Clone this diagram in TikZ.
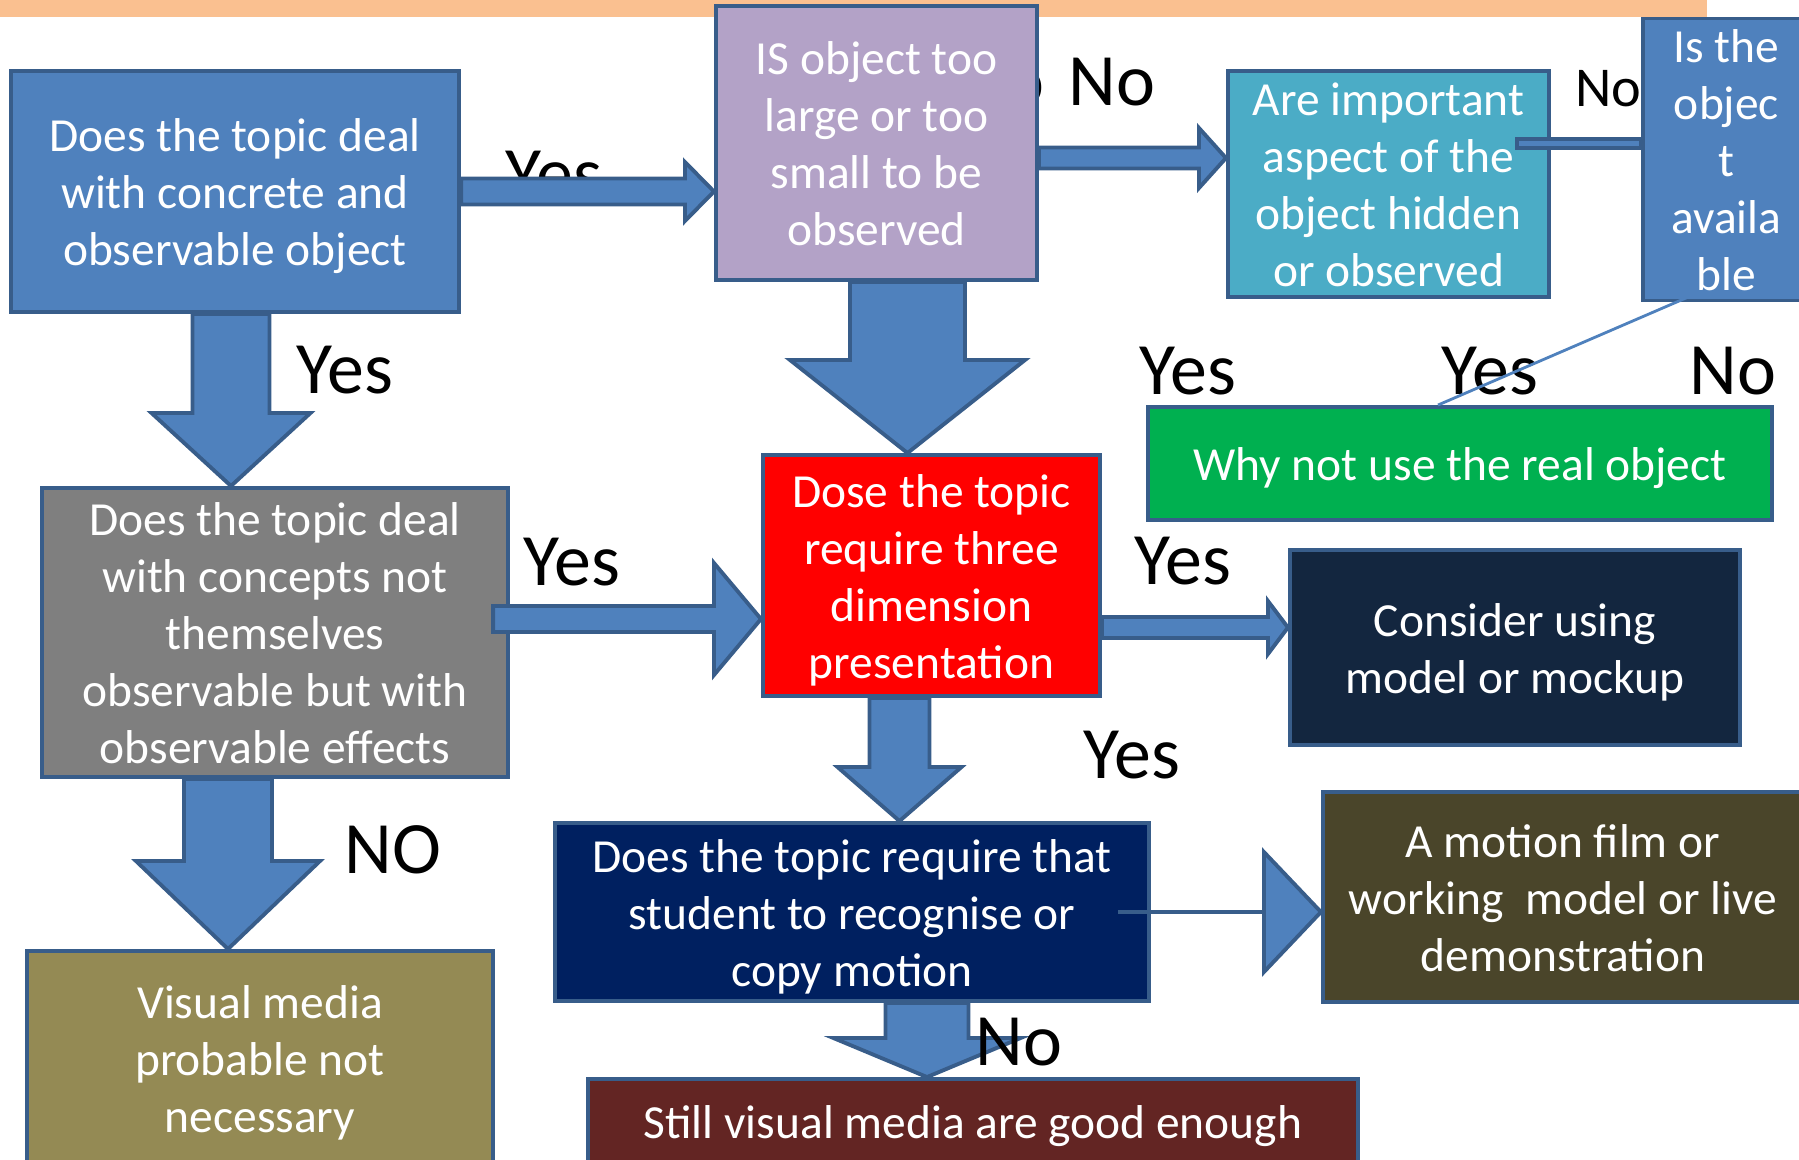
\documentclass[tikz,border=0pt]{standalone}
\usepackage{fontspec}
\setmainfont{Carlito}
\usepackage{tikz}
\usetikzlibrary{calc}

\definecolor{arrowblue}{HTML}{4F81BD}
\definecolor{edgeblue}{HTML}{385D8A}
\definecolor{titlebar}{HTML}{FAC090}
\definecolor{lilac}{HTML}{B3A2C7}
\definecolor{aqua}{HTML}{4BACC6}
\definecolor{grassgreen}{HTML}{00B050}
\definecolor{midgray}{HTML}{7F7F7F}
\definecolor{darknavy}{HTML}{13263F}
\definecolor{deepblue}{HTML}{002060}
\definecolor{darkolive}{HTML}{4A452A}
\definecolor{olive}{HTML}{948A54}
\definecolor{maroon}{HTML}{632523}

% struts for the first and the last line of a box text
\newcommand{\firstln}{\rule{0pt}{12.6pt}}
\newcommand{\lastln}{\rule[-2.8pt]{0pt}{2.8pt}}

% block arrow downwards: from, to, x shift, shaft half width, head half width, head length
\newcommand{\downblock}[6]{%
  \coordinate (bs) at ($(#1)+(#3,0)$);
  \coordinate (bt) at (bs |- #2);
  \draw[blockarrow] ($(bs)+(-#4,0)$) -- ($(bt)+(-#4,-#6)$) -- ($(bt)+(-#5,-#6)$) -- (bt)
    -- ($(bt)+(#5,-#6)$) -- ($(bt)+(#4,-#6)$) -- ($(bs)+(#4,0)$) -- cycle;}

% block arrow to the right: from, to, x shift, y shift, shaft half width, head half width, head length
\newcommand{\rightblock}[7]{%
  \coordinate (bs) at ($(#1)+(#3,#4)$);
  \coordinate (bt) at (bs -| #2);
  \draw[blockarrow] ($(bs)+(0,-#5)$) -- ($(bt)+(-#7,-#5)$) -- ($(bt)+(-#7,-#6)$) -- (bt)
    -- ($(bt)+(-#7,#6)$) -- ($(bt)+(-#7,#5)$) -- ($(bs)+(0,#5)$) -- cycle;}

\begin{document}
\begin{tikzpicture}[x=0.01cm, y=-0.01cm,
    box/.style={draw=edgeblue, line width=1.1pt, text=white, align=center, inner sep=0pt,
      font=\fontsize{13.5}{16.2}\selectfont},
    lbl/.style={inner sep=0pt, font=\fontsize{21}{25}\selectfont},
    blockarrow/.style={fill=arrowblue, draw=edgeblue, line width=1.1pt, line join=miter}]
  \useasboundingbox (0,0) rectangle (1799,1160);
  \clip (0,0) rectangle (1799,1160);

  \fill[titlebar] (0,0) rectangle (1707,17);

  % labels that sit behind other shapes
  \node[lbl] (yesAB) at (554,175) {Yes};
  \node[lbl, anchor=east] (nohid) at (1045,82) {No};

  % question boxes
  \node[box, fill=arrowblue, minimum width=4.48cm, minimum height=2.41cm] (A) at (235,191.5)
    {\firstln Does the topic deal\\with concrete and\\observable object\lastln};
  \node[box, fill=lilac, minimum width=3.21cm, minimum height=2.74cm] (B) at (876.5,143)
    {\firstln IS object too\\large or too\\small to be\\observed\lastln};
  \node[box, fill=aqua, minimum width=3.21cm, minimum height=2.26cm] (C) at (1388.5,184)
    {\firstln Are important\\aspect of the\\object hidden\\or observed\lastln};
  \node[box, fill=arrowblue, minimum width=1.67cm, minimum height=2.75cm] (D) at (1726.5,159.5)
    {\firstln Is the\\objec\\t\\availa\\ble\lastln};
  \node[box, fill=grassgreen, minimum width=6.24cm, minimum height=1.13cm] (E) at (1460,463.5)
    {\firstln Why not use the real object\lastln};
  \node[box, fill=midgray, minimum width=4.66cm, minimum height=2.89cm] (F) at (275,632.5)
    {\firstln Does the topic deal\\with concepts not\\themselves\\observable but with\\observable effects\lastln};
  \node[box, fill=red, minimum width=3.37cm, minimum height=2.41cm] (G) at (931.5,575.5)
    {\firstln Dose the topic\\require three\\dimension\\presentation\lastln};
  \node[box, fill=darknavy, minimum width=4.5cm, minimum height=1.95cm] (H) at (1515,647.5)
    {\firstln Consider using\\model or mockup\lastln};
  \node[box, fill=deepblue, minimum width=5.94cm, minimum height=1.78cm] (I) at (852,912)
    {\firstln Does the topic require that\\student to recognise or\\copy motion\lastln};
  \node[box, fill=darkolive, minimum width=4.8cm, minimum height=2.1cm] (J) at (1563,897)
    {\firstln A motion film or\\working\ \ model or live\\demonstration\lastln};
  \node[box, fill=olive, minimum width=4.66cm, minimum height=2.14cm] (K) at (260,1058)
    {\firstln Visual media\\probable not\\necessary\lastln};
  \node[box, fill=maroon, minimum width=7.7cm, minimum height=0.84cm] (L) at (973,1121)
    {\firstln Still visual media are good enough\lastln};

  % block arrows
  \rightblock{A.east}{B.west}{0}{0}{13}{29.5}{29}
  \rightblock{B.east}{C.west}{0}{15}{10.5}{30}{27}
  \rightblock{F.east}{G.west}{-17}{-13.5}{13}{56}{47}
  \rightblock{G.east}{H.west}{0}{52}{10.5}{26.5}{20}
  \downblock{A.south}{F.north}{-4}{38.5}{79.5}{73}
  \downblock{B.south}{G.north}{31}{57.5}{117.5}{93}
  \downblock{F.south}{K.north}{-47}{44}{92}{88}
  \downblock{G.south}{I.north}{-32}{30}{62}{54}
  \downblock{I.south}{L.north}{75}{41.5}{93.5}{39}

  % thin shaft from C to D
  \coordinate (cs) at ($(C.east)+(-34,-40.5)$);
  \draw[blockarrow] ($(cs)+(0,-4.5)$) rectangle ($(cs -| D.west)+(0,4.5)$);

  % motion arrow from I to J
  \coordinate (ms) at ($(I.east)+(-33,0)$);
  \coordinate (mt) at (ms -| J.west);
  \draw[edgeblue, line width=1.4pt] (ms) -- ($(mt)+(-57,0)$);
  \draw[blockarrow] ($(mt)+(-57,-60)$) -- (mt) -- ($(mt)+(-57,60)$) -- cycle;

  % answer labels
  \node[lbl] (yesAF) at (345,370) {Yes};
  \node[lbl] (yesFG) at (572,562) {Yes};
  \node[lbl] (noFK) at (393,850) {NO};
  \node[lbl] (noBC) at (1112,82) {No};
  \node[lbl, font=\fontsize{16}{19}\selectfont] (noCD) at (1608,89) {No};
  \node[lbl] (yesone) at (1188,371) {Yes};
  \node[lbl] (yestwo) at (1490,371) {Yes};
  \node[lbl] (nothree) at (1733,371) {No};
  \node[lbl] (yesGH) at (1183,561) {Yes};
  \node[lbl] (yesGI) at (1132,755) {Yes};
  \node[lbl] (noIL) at (1019,1042) {No};

  \draw[arrowblue, line width=0.8pt] ([xshift=-0.3cm, yshift=0.09cm]D.south) -- ([xshift=-0.22cm]E.north);
\end{tikzpicture}
\end{document}
